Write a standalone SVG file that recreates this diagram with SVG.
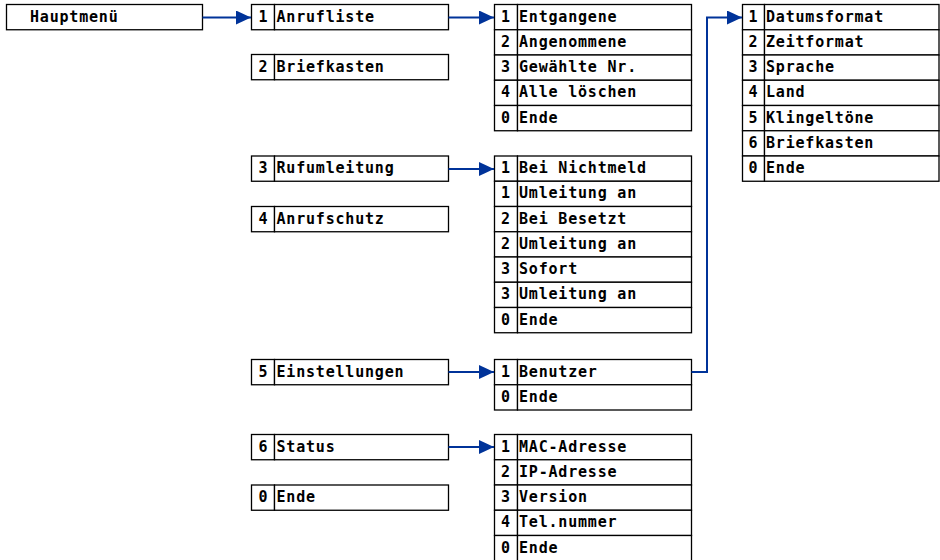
<svg xmlns="http://www.w3.org/2000/svg" width="940" height="560" viewBox="0 0 940 560">
<style>
.c{fill:#fff;stroke:#000;stroke-width:1.3}
.t{font-family:"DejaVu Sans Mono","Liberation Mono",monospace;font-weight:bold;font-size:15px;letter-spacing:0.8px;fill:#000}
.k{fill:none;stroke:#003399;stroke-width:2}
</style>
<defs>
<marker id="ah" markerUnits="userSpaceOnUse" markerWidth="16" markerHeight="16" refX="15" refY="7" orient="auto">
<path d="M0,0 L15,7 L0,14 z" fill="#003399"/>
</marker>
</defs>
<rect width="940" height="560" fill="#fff"/>

<g id="hauptmenue">
<rect class="c" x="6.5" y="4.5" width="196" height="25.25"/>
<text class="t" x="30" y="21.6">Hauptmenü</text>
</g>

<g id="l1-anrufliste">
<rect class="c" x="251.5" y="4.5" width="23" height="25.25"/><rect class="c" x="274.5" y="4.5" width="174" height="25.25"/>
<text class="t" x="258.5" y="21.6">1</text><text class="t" x="276.5" y="21.6">Anrufliste</text>
</g>
<g id="l1-briefkasten">
<rect class="c" x="251.5" y="54.5" width="23" height="25.25"/><rect class="c" x="274.5" y="54.5" width="174" height="25.25"/>
<text class="t" x="258.5" y="71.6">2</text><text class="t" x="276.5" y="71.6">Briefkasten</text>
</g>
<g id="l1-rufumleitung">
<rect class="c" x="251.5" y="156" width="23" height="25.25"/><rect class="c" x="274.5" y="156" width="174" height="25.25"/>
<text class="t" x="258.5" y="173.1">3</text><text class="t" x="276.5" y="173.1">Rufumleitung</text>
</g>
<g id="l1-anrufschutz">
<rect class="c" x="251.5" y="206.5" width="23" height="25.25"/><rect class="c" x="274.5" y="206.5" width="174" height="25.25"/>
<text class="t" x="258.5" y="223.6">4</text><text class="t" x="276.5" y="223.6">Anrufschutz</text>
</g>
<g id="l1-einstellungen">
<rect class="c" x="251.5" y="359.5" width="23" height="25.25"/><rect class="c" x="274.5" y="359.5" width="174" height="25.25"/>
<text class="t" x="258.5" y="376.6">5</text><text class="t" x="276.5" y="376.6">Einstellungen</text>
</g>
<g id="l1-status">
<rect class="c" x="251.5" y="434.5" width="23" height="25.25"/><rect class="c" x="274.5" y="434.5" width="174" height="25.25"/>
<text class="t" x="258.5" y="451.6">6</text><text class="t" x="276.5" y="451.6">Status</text>
</g>
<g id="l1-ende">
<rect class="c" x="251.5" y="485" width="23" height="25.25"/><rect class="c" x="274.5" y="485" width="174" height="25.25"/>
<text class="t" x="258.5" y="502.1">0</text><text class="t" x="276.5" y="502.1">Ende</text>
</g>

<g id="menu-anrufliste">
<rect class="c" x="494.5" y="4.5" width="23" height="25.25"/><rect class="c" x="517.5" y="4.5" width="174" height="25.25"/>
<rect class="c" x="494.5" y="29.75" width="23" height="25.25"/><rect class="c" x="517.5" y="29.75" width="174" height="25.25"/>
<rect class="c" x="494.5" y="55" width="23" height="25.25"/><rect class="c" x="517.5" y="55" width="174" height="25.25"/>
<rect class="c" x="494.5" y="80.25" width="23" height="25.25"/><rect class="c" x="517.5" y="80.25" width="174" height="25.25"/>
<rect class="c" x="494.5" y="105.5" width="23" height="25.25"/><rect class="c" x="517.5" y="105.5" width="174" height="25.25"/>
<text class="t" x="501" y="21.6">1</text><text class="t" x="519" y="21.6">Entgangene</text>
<text class="t" x="501" y="46.85">2</text><text class="t" x="519" y="46.85">Angenommene</text>
<text class="t" x="501" y="72.1">3</text><text class="t" x="519" y="72.1">Gewählte Nr.</text>
<text class="t" x="501" y="97.35">4</text><text class="t" x="519" y="97.35">Alle löschen</text>
<text class="t" x="501" y="122.6">0</text><text class="t" x="519" y="122.6">Ende</text>
</g>

<g id="menu-rufumleitung">
<rect class="c" x="494.5" y="156" width="23" height="25.25"/><rect class="c" x="517.5" y="156" width="174" height="25.25"/>
<rect class="c" x="494.5" y="181.25" width="23" height="25.25"/><rect class="c" x="517.5" y="181.25" width="174" height="25.25"/>
<rect class="c" x="494.5" y="206.5" width="23" height="25.25"/><rect class="c" x="517.5" y="206.5" width="174" height="25.25"/>
<rect class="c" x="494.5" y="231.75" width="23" height="25.25"/><rect class="c" x="517.5" y="231.75" width="174" height="25.25"/>
<rect class="c" x="494.5" y="257" width="23" height="25.25"/><rect class="c" x="517.5" y="257" width="174" height="25.25"/>
<rect class="c" x="494.5" y="282.25" width="23" height="25.25"/><rect class="c" x="517.5" y="282.25" width="174" height="25.25"/>
<rect class="c" x="494.5" y="307.5" width="23" height="25.25"/><rect class="c" x="517.5" y="307.5" width="174" height="25.25"/>
<text class="t" x="501" y="173.1">1</text><text class="t" x="519" y="173.1">Bei Nichtmeld</text>
<text class="t" x="501" y="198.35">1</text><text class="t" x="519" y="198.35">Umleitung an</text>
<text class="t" x="501" y="223.6">2</text><text class="t" x="519" y="223.6">Bei Besetzt</text>
<text class="t" x="501" y="248.85">2</text><text class="t" x="519" y="248.85">Umleitung an</text>
<text class="t" x="501" y="274.1">3</text><text class="t" x="519" y="274.1">Sofort</text>
<text class="t" x="501" y="299.35">3</text><text class="t" x="519" y="299.35">Umleitung an</text>
<text class="t" x="501" y="324.6">0</text><text class="t" x="519" y="324.6">Ende</text>
</g>

<g id="menu-einstellungen">
<rect class="c" x="494.5" y="359.5" width="23" height="25.25"/><rect class="c" x="517.5" y="359.5" width="174" height="25.25"/>
<rect class="c" x="494.5" y="384.75" width="23" height="25.25"/><rect class="c" x="517.5" y="384.75" width="174" height="25.25"/>
<text class="t" x="501" y="376.6">1</text><text class="t" x="519" y="376.6">Benutzer</text>
<text class="t" x="501" y="401.85">0</text><text class="t" x="519" y="401.85">Ende</text>
</g>

<g id="menu-status">
<rect class="c" x="494.5" y="434.5" width="23" height="25.25"/><rect class="c" x="517.5" y="434.5" width="174" height="25.25"/>
<rect class="c" x="494.5" y="459.75" width="23" height="25.25"/><rect class="c" x="517.5" y="459.75" width="174" height="25.25"/>
<rect class="c" x="494.5" y="485" width="23" height="25.25"/><rect class="c" x="517.5" y="485" width="174" height="25.25"/>
<rect class="c" x="494.5" y="510.25" width="23" height="25.25"/><rect class="c" x="517.5" y="510.25" width="174" height="25.25"/>
<rect class="c" x="494.5" y="535.5" width="23" height="25.25"/><rect class="c" x="517.5" y="535.5" width="174" height="25.25"/>
<text class="t" x="501" y="451.6">1</text><text class="t" x="519" y="451.6">MAC-Adresse</text>
<text class="t" x="501" y="476.85">2</text><text class="t" x="519" y="476.85">IP-Adresse</text>
<text class="t" x="501" y="502.1">3</text><text class="t" x="519" y="502.1">Version</text>
<text class="t" x="501" y="527.35">4</text><text class="t" x="519" y="527.35">Tel.nummer</text>
<text class="t" x="501" y="552.6">0</text><text class="t" x="519" y="552.6">Ende</text>
</g>

<g id="menu-benutzer">
<rect class="c" x="742.5" y="4.5" width="22" height="25.25"/><rect class="c" x="764.5" y="4.5" width="174.5" height="25.25"/>
<rect class="c" x="742.5" y="29.75" width="22" height="25.25"/><rect class="c" x="764.5" y="29.75" width="174.5" height="25.25"/>
<rect class="c" x="742.5" y="55" width="22" height="25.25"/><rect class="c" x="764.5" y="55" width="174.5" height="25.25"/>
<rect class="c" x="742.5" y="80.25" width="22" height="25.25"/><rect class="c" x="764.5" y="80.25" width="174.5" height="25.25"/>
<rect class="c" x="742.5" y="105.5" width="22" height="25.25"/><rect class="c" x="764.5" y="105.5" width="174.5" height="25.25"/>
<rect class="c" x="742.5" y="130.75" width="22" height="25.25"/><rect class="c" x="764.5" y="130.75" width="174.5" height="25.25"/>
<rect class="c" x="742.5" y="156" width="22" height="25.25"/><rect class="c" x="764.5" y="156" width="174.5" height="25.25"/>
<text class="t" x="748.5" y="21.6">1</text><text class="t" x="766" y="21.6">Datumsformat</text>
<text class="t" x="748.5" y="46.85">2</text><text class="t" x="766" y="46.85">Zeitformat</text>
<text class="t" x="748.5" y="72.1">3</text><text class="t" x="766" y="72.1">Sprache</text>
<text class="t" x="748.5" y="97.35">4</text><text class="t" x="766" y="97.35">Land</text>
<text class="t" x="748.5" y="122.6">5</text><text class="t" x="766" y="122.6">Klingeltöne</text>
<text class="t" x="748.5" y="147.85">6</text><text class="t" x="766" y="147.85">Briefkasten</text>
<text class="t" x="748.5" y="173.1">0</text><text class="t" x="766" y="173.1">Ende</text>
</g>

<g id="connectors">
<path class="k" d="M202.5,17.5 H251" marker-end="url(#ah)"/>
<path class="k" d="M448.5,17.5 H494" marker-end="url(#ah)"/>
<path class="k" d="M448.5,169 H494" marker-end="url(#ah)"/>
<path class="k" d="M448.5,372 H494" marker-end="url(#ah)"/>
<path class="k" d="M448.5,447 H494" marker-end="url(#ah)"/>
<path class="k" d="M691.5,372 H707 V17.5 H742" marker-end="url(#ah)"/>
</g>
</svg>
